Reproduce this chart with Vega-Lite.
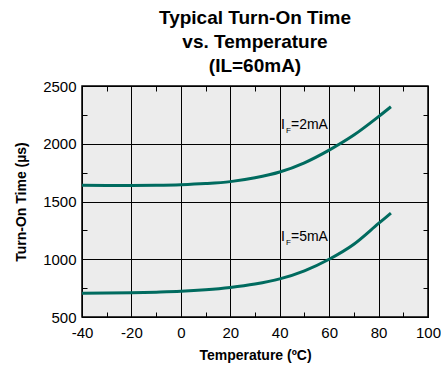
{
  "$schema": "https://vega.github.io/schema/vega-lite/v6.json",
  "width": 346,
  "height": 231,
  "autosize": "none",
  "padding": {"left": 82, "top": 86, "right": 13, "bottom": 49},
  "config": {
    "font": "Liberation Sans",
    "view": {"fill": "#ececec", "stroke": "black", "strokeWidth": 1.5}
  },
  "title": {
    "text": ["Typical Turn-On Time", "vs. Temperature", "(IL=60mA)"],
    "fontSize": 19,
    "fontWeight": "bold",
    "lineHeight": 24,
    "anchor": "middle",
    "offset": 3,
    "color": "black"
  },
  "datasets": {
    "curves": [
      {"series": "2mA", "temp": -40, "value": 1640},
      {"series": "2mA", "temp": -30, "value": 1638},
      {"series": "2mA", "temp": -20, "value": 1638},
      {"series": "2mA", "temp": -10, "value": 1640},
      {"series": "2mA", "temp": 0, "value": 1645},
      {"series": "2mA", "temp": 10, "value": 1655},
      {"series": "2mA", "temp": 20, "value": 1672},
      {"series": "2mA", "temp": 30, "value": 1705},
      {"series": "2mA", "temp": 40, "value": 1755},
      {"series": "2mA", "temp": 50, "value": 1835},
      {"series": "2mA", "temp": 60, "value": 1945},
      {"series": "2mA", "temp": 70, "value": 2075},
      {"series": "2mA", "temp": 80, "value": 2235},
      {"series": "2mA", "temp": 85, "value": 2320},
      {"series": "5mA", "temp": -40, "value": 705},
      {"series": "5mA", "temp": -30, "value": 707},
      {"series": "5mA", "temp": -20, "value": 710},
      {"series": "5mA", "temp": -10, "value": 715},
      {"series": "5mA", "temp": 0, "value": 722},
      {"series": "5mA", "temp": 10, "value": 735},
      {"series": "5mA", "temp": 20, "value": 755},
      {"series": "5mA", "temp": 30, "value": 785},
      {"series": "5mA", "temp": 40, "value": 830},
      {"series": "5mA", "temp": 50, "value": 900},
      {"series": "5mA", "temp": 60, "value": 1000},
      {"series": "5mA", "temp": 70, "value": 1130},
      {"series": "5mA", "temp": 80, "value": 1310},
      {"series": "5mA", "temp": 85, "value": 1400}
    ],
    "labels": [
      {"temp": 40.5, "value": 2160, "main": "I", "sub": "F", "rest": "=2mA"},
      {"temp": 40.5, "value": 1196, "main": "I", "sub": "F", "rest": "=5mA"}
    ]
  },
  "layer": [
    {
      "data": {"name": "curves"},
      "mark": {"type": "line", "color": "#006b5f", "strokeWidth": 3, "interpolate": "monotone"},
      "encoding": {
        "x": {
          "field": "temp", "type": "quantitative",
          "scale": {"domain": [-40, 100], "nice": false},
          "axis": {
            "orient": "bottom",
            "values": [-40, -30, -20, -10, 0, 10, 20, 30, 40, 50, 60, 70, 80, 90, 100],
            "grid": true,
            "gridColor": "black",
            "gridOpacity": {"condition": {"test": "datum.value % 20 === 0", "value": 1}, "value": 0},
            "domain": false,
            "tickSize": -5,
            "tickColor": "black",
            "labelExpr": "datum.value % 20 === 0 ? '' + datum.value : ''",
            "labelOverlap": false,
            "labelFlush": false,
            "labelFontSize": 15,
            "labelColor": "black",
            "labelPadding": 13,
            "title": "Temperature (ºC)",
            "titleFontSize": 14,
            "titleFontWeight": "bold",
            "titleColor": "black",
            "titlePadding": 8
          }
        },
        "y": {
          "field": "value", "type": "quantitative",
          "scale": {"domain": [500, 2500], "nice": false},
          "axis": {
            "orient": "left",
            "values": [500, 750, 1000, 1250, 1500, 1750, 2000, 2250, 2500],
            "grid": true,
            "gridColor": "black",
            "gridOpacity": {"condition": {"test": "datum.value % 500 === 0", "value": 1}, "value": 0},
            "domain": false,
            "tickSize": -5,
            "tickColor": "black",
            "labelExpr": "datum.value % 500 === 0 ? '' + datum.value : ''",
            "labelOverlap": false,
            "labelFlush": false,
            "labelFontSize": 15,
            "labelColor": "black",
            "labelPadding": 11,
            "title": "Turn-On Time (µs)",
            "titleFontSize": 14,
            "titleFontWeight": "bold",
            "titleColor": "black",
            "titlePadding": 14
          }
        },
        "detail": {"field": "series", "type": "nominal"}
      }
    },
    {
      "data": {"name": "labels"},
      "mark": {"type": "text", "align": "left", "baseline": "middle", "fontSize": 14, "color": "black"},
      "encoding": {
        "x": {
          "field": "temp", "type": "quantitative",
          "axis": {
            "orient": "top",
            "values": [-40, -30, -20, -10, 0, 10, 20, 30, 40, 50, 60, 70, 80, 90, 100],
            "grid": false, "domain": false, "labels": false, "title": null,
            "tickSize": -5, "tickColor": "black"
          }
        },
        "y": {
          "field": "value", "type": "quantitative",
          "axis": {
            "orient": "right",
            "values": [500, 750, 1000, 1250, 1500, 1750, 2000, 2250, 2500],
            "grid": false, "domain": false, "labels": false, "title": null,
            "tickSize": -5, "tickColor": "black"
          }
        },
        "text": {"field": "main"}
      }
    },
    {
      "data": {"name": "labels"},
      "mark": {"type": "text", "align": "left", "baseline": "middle", "fontSize": 8, "dx": 5, "dy": 6, "color": "black"},
      "encoding": {
        "x": {"field": "temp", "type": "quantitative", "axis": null},
        "y": {"field": "value", "type": "quantitative", "axis": null},
        "text": {"field": "sub"}
      }
    },
    {
      "data": {"name": "labels"},
      "mark": {"type": "text", "align": "left", "baseline": "middle", "fontSize": 14, "dx": 10, "color": "black"},
      "encoding": {
        "x": {"field": "temp", "type": "quantitative", "axis": null},
        "y": {"field": "value", "type": "quantitative", "axis": null},
        "text": {"field": "rest"}
      }
    }
  ],
  "resolve": {"axis": {"x": "independent", "y": "independent"}}
}
